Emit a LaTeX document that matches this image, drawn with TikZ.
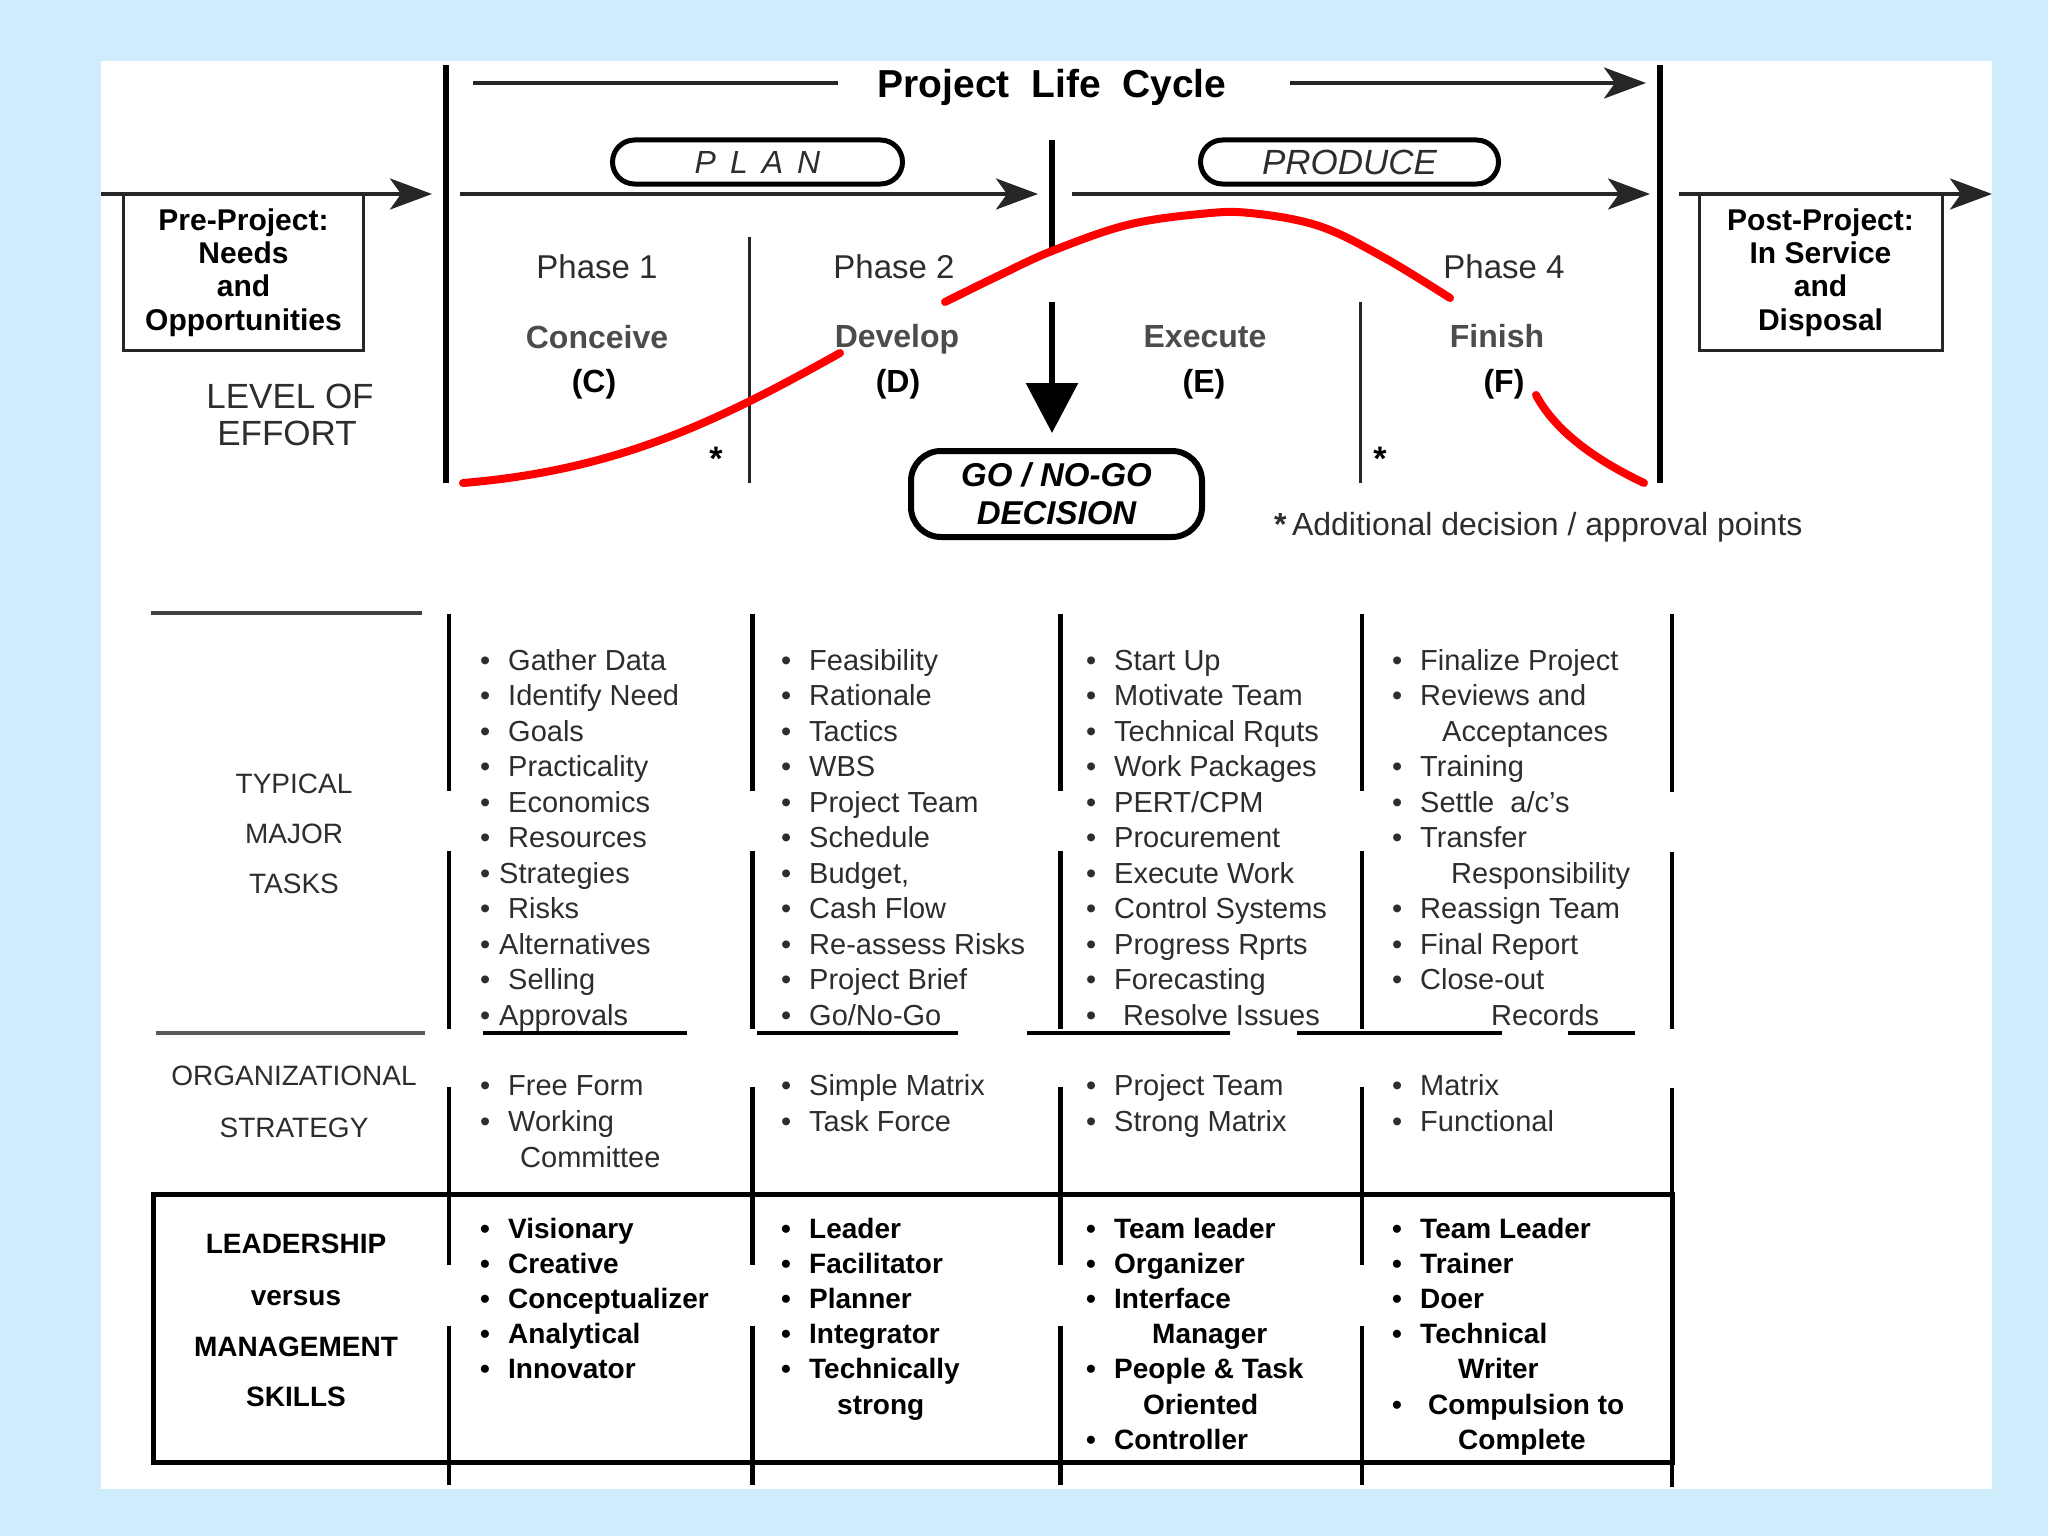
\documentclass[tikz,border=0pt]{standalone}
\usepackage{fontspec}
\setmainfont{Liberation Sans}
\usetikzlibrary{arrows.meta}
\definecolor{bgblue}{RGB}{206,236,252}
\definecolor{ink}{RGB}{45,45,45}
\newcommand\fsz[1]{\fontsize{#1pt}{#1pt}\selectfont}
\newcommand\fszl[2]{\fontsize{#1pt}{#2pt}\selectfont}
\newcommand\bu{\makebox[28pt][l]{\textbullet}}
\newcommand\bn{\makebox[19pt][l]{\textbullet}}
\newcommand\bw[1]{\makebox[#1][l]{\textbullet}}
\begin{document}
\begin{tikzpicture}[x=1pt,y=-1pt,
  txt/.style={inner sep=0pt, anchor=base west, text=ink, font=\fsz{29}},
  btxt/.style={inner sep=0pt, anchor=base west, text=black, font=\fsz{28}\bfseries},
  lab/.style={inner sep=0pt, anchor=base, text=ink},
  blab/.style={inner sep=0pt, anchor=base, text=black},
  harrow/.style={line width=4pt, black!85, -{Stealth[length=42pt,width=31pt,inset=11pt]}},
  hline/.style={line width=4pt, black!85},
  pill/.style={draw=black, line width=5pt, rounded corners=22pt, inner sep=0pt},
  infobox/.style={draw=black!85, line width=3pt, inner sep=0pt, align=center, font=\fszl{30}{33.3}\bfseries, text=black},
  effort/.style={draw=red, line width=8pt, line cap=round},
  colline/.style={line width=4.5pt, black},
  rowline/.style={line width=4pt, black}]
% background and panel
\fill[bgblue] (0,0) rectangle (2048,1536);
\fill[white] (101,61) rectangle (1992,1489);
\useasboundingbox (0,0) rectangle (2048,1536);

% ---------------- top part ----------------
\draw[line width=6pt] (446,65) -- (446,483);
\draw[line width=6pt] (1660,65) -- (1660,483);

\node[blab, font=\fsz{39}\bfseries] (plc) at (1052,98) {Project\ \ Life\ \ Cycle};
\coordinate (plcL) at (473,83); \coordinate (plcLe) at (838,83);
\draw[hline] (plcL) -- (plcLe);
\coordinate (plcR) at (1290,83); \coordinate (plcRe) at (1646,83);
\draw[harrow] (plcR) -- (plcRe);

\node[infobox, minimum width=240pt, minimum height=156pt] (pre) at (243.5,272.5) {Pre-Project:\\Needs\\and\\Opportunities};
\node[infobox, minimum width=243pt, minimum height=156pt] (post) at (1820.5,272.5) {Post-Project:\\In Service\\and\\Disposal};
\coordinate (preS) at (101,194); \coordinate (preE) at (432,194);
\draw[harrow] (preS) -- (preE);
\coordinate (postS) at (1679,194); \coordinate (postE) at (1992,194);
\draw[harrow] (postS) -- (postE);

\node[pill, minimum width=290pt, minimum height=44pt, font=\fsz{32}\itshape, text=ink] (plan) at (757.5,162) {P\hspace{14pt}L\hspace{14pt}A\hspace{14pt}N};
\node[pill, minimum width=298pt, minimum height=44pt, font=\fsz{35}\itshape, text=ink] (produce) at (1349.5,162) {PRODUCE};
\coordinate (planS) at (460,194); \coordinate (planE) at (1038,194);
\draw[harrow] (planS) -- (planE);
\coordinate (prodS) at (1072,194); \coordinate (prodE) at (1650,194);
\draw[harrow] (prodS) -- (prodE);

% decision line and arrow
\coordinate (decT) at (1052,140); \coordinate (decM) at (1052,252);
\draw[line width=6pt] (decT) -- (decM);
\node[draw, line width=6pt, rounded corners=30pt, minimum width=291pt, minimum height=86pt, inner sep=0pt, align=center, font=\fszl{33}{38}\bfseries\itshape] (go) at (1056.5,494) {GO / NO-GO\\DECISION};
\coordinate (goS) at (1052,302);
\draw[line width=6pt, -{Triangle[length=50pt,width=51pt]}, shorten >=15pt] (goS) -- (go.north -| goS);

% phase dividers
\draw[line width=3pt, black!85] (749,237) -- (749,483);
\draw[line width=3pt, black!85] (1360,302) -- (1360,483);

% phase labels
\node[lab, font=\fsz{33}] (ph1) at (597,278) {Phase 1};
\node[lab, font=\fsz{33}] (ph2) at (894,278) {Phase 2};
\node[lab, font=\fsz{33}] (ph4) at (1504,278) {Phase 4};
\node[lab, font=\fsz{32}\bfseries, text=black!70] (cC) at (597,348) {Conceive};
\node[lab, font=\fsz{32}\bfseries, text=black!70] (cD) at (897,347) {Develop};
\node[lab, font=\fsz{32}\bfseries, text=black!70] (cE) at (1205,347) {Execute};
\node[lab, font=\fsz{32}\bfseries, text=black!70] (cF) at (1497,347) {Finish};
\node[blab, font=\fsz{32}\bfseries] (lC) at (594,392) {(C)};
\node[blab, font=\fsz{32}\bfseries] (lD) at (898,392) {(D)};
\node[blab, font=\fsz{32}\bfseries] (lE) at (1204,392) {(E)};
\node[blab, font=\fsz{32}\bfseries] (lF) at (1504,392) {(F)};
\node[lab, font=\fsz{35}] (lev1) at (290,408) {LEVEL OF};
\node[lab, font=\fsz{35}] (lev2) at (287,445) {EFFORT};
\node[blab, font=\fsz{34}\bfseries] (ast1) at (716,470) {*};
\node[blab, font=\fsz{34}\bfseries] (ast2) at (1380,470) {*};
\node[lab, anchor=base west, font=\fsz{32}] (note) at (1274,535) {{\bfseries *}\,Additional decision / approval points};

% level of effort curve
\draw[effort] (463,483) .. controls (620,470) and (720,420) .. (840,353);
\draw[effort] plot[smooth, tension=0.6] coordinates {(945,302) (1000,275) (1052,251) (1127,225) (1200,214) (1250,213) (1319,226) (1383,257) (1450,298)};
\draw[effort] (1536,395) .. controls (1552,425) and (1585,455) .. (1644,483);

% ---------------- lower table ----------------
\draw[line width=4pt, black!75] (151,613) -- (422,613);
\draw[line width=4pt, black!65] (156,1033) -- (425,1033);
\foreach \x/\w in {449/3.5pt, 752/5pt, 1060/5pt, 1362/4pt} {
  \draw[line width=\w] (\x,614) -- (\x,791);
  \draw[line width=\w] (\x,851) -- (\x,1029);
  \draw[line width=\w] (\x,1087) -- (\x,1265);
  \draw[line width=\w] (\x,1326) -- (\x,1485);
}
\draw[colline] (1672,614) -- (1672,792);
\draw[colline] (1672,852) -- (1672,1029);
\draw[colline] (1672,1088) -- (1672,1487);
\foreach \a/\b in {483/687, 757/958, 1027/1230, 1297/1502, 1568/1635}
  \draw[rowline] (\a,1033) -- (\b,1033);
\draw[line width=5pt] (153,1194) rectangle (1672,1462);

% row labels
\node[lab, font=\fsz{28}] (typ) at (294,793) {TYPICAL};
\node[lab, font=\fsz{28}] (maj) at (294,843) {MAJOR};
\node[lab, font=\fsz{28}] (tsk) at (294,893) {TASKS};
\node[lab, font=\fsz{28}] (org) at (294,1085) {ORGANIZATIONAL};
\node[lab, font=\fsz{28}] (str) at (294,1137) {STRATEGY};
\node[blab, font=\fsz{28}\bfseries] (lea) at (296,1253) {LEADERSHIP};
\node[blab, font=\fsz{28}\bfseries] (ver) at (296,1305) {versus};
\node[blab, font=\fsz{28}\bfseries] (man) at (296,1356) {MANAGEMENT};
\node[blab, font=\fsz{28}\bfseries] (ski) at (296,1406) {SKILLS};

% typical major tasks
\foreach \t [count=\i] in {{\bu Gather Data},{\bu Identify Need},{\bu Goals},{\bu Practicality},{\bu Economics},{\bu Resources},{\bn Strategies},{\bu Risks},{\bn Alternatives},{\bu Selling},{\bn Approvals}}
  \node[txt] (ta\i) at (480,{670+35.5*(\i-1)}) {\t};
\foreach \t [count=\i] in {{\bu Feasibility},{\bu Rationale},{\bu Tactics},{\bu WBS},{\bu Project Team},{\bu Schedule},{\bu Budget,},{\bu Cash Flow},{\bu Re-assess Risks},{\bu Project Brief},{\bu Go/No-Go}}
  \node[txt] (tb\i) at (781,{670+35.5*(\i-1)}) {\t};
\foreach \t [count=\i] in {{\bu Start Up},{\bu Motivate Team},{\bu Technical Rquts},{\bu Work Packages},{\bu PERT/CPM},{\bu Procurement},{\bu Execute Work},{\bu Control Systems},{\bu Progress Rprts},{\bu Forecasting},{\bw{37pt}Resolve Issues}}
  \node[txt] (tc\i) at (1086,{670+35.5*(\i-1)}) {\t};
\foreach \t [count=\i] in {{\bu Finalize Project},{\bu Reviews and},{\hspace*{50pt}Acceptances},{\bu Training},{\bu Settle\ \ a/c's},{\bu Transfer},{\hspace*{59pt}Responsibility},{\bu Reassign Team},{\bu Final Report},{\bu Close-out},{\hspace*{99pt}Records}}
  \node[txt] (td\i) at (1392,{670+35.5*(\i-1)}) {\t};

% organizational strategy
\foreach \t [count=\i] in {{\bu Free Form},{\bu Working},{\hspace*{40pt}Committee}}
  \node[txt] (oa\i) at (480,{1095+36*(\i-1)}) {\t};
\foreach \t [count=\i] in {{\bu Simple Matrix},{\bu Task Force}}
  \node[txt] (ob\i) at (781,{1095+36*(\i-1)}) {\t};
\foreach \t [count=\i] in {{\bu Project Team},{\bu Strong Matrix}}
  \node[txt] (oc\i) at (1086,{1095+36*(\i-1)}) {\t};
\foreach \t [count=\i] in {{\bu Matrix},{\bu Functional}}
  \node[txt] (od\i) at (1392,{1095+36*(\i-1)}) {\t};

% leadership versus management skills
\foreach \t [count=\i] in {{\bu Visionary},{\bu Creative},{\bu Conceptualizer},{\bu Analytical},{\bu Innovator}}
  \node[btxt] (la\i) at (480,{1238+35.2*(\i-1)}) {\t};
\foreach \t [count=\i] in {{\bu Leader},{\bu Facilitator},{\bu Planner},{\bu Integrator},{\bu Technically},{\hspace*{56pt}strong}}
  \node[btxt] (lb\i) at (781,{1238+35.2*(\i-1)}) {\t};
\foreach \t [count=\i] in {{\bu Team leader},{\bu Organizer},{\bu Interface},{\hspace*{66pt}Manager},{\bu People \& Task},{\hspace*{57pt}Oriented},{\bu Controller}}
  \node[btxt] (lc\i) at (1086,{1238+35.2*(\i-1)}) {\t};
\foreach \t [count=\i] in {{\bu Team Leader},{\bu Trainer},{\bu Doer},{\bu Technical},{\hspace*{66pt}Writer},{\bw{36pt}Compulsion to},{\hspace*{66pt}Complete}}
  \node[btxt] (ld\i) at (1392,{1238+35.2*(\i-1)}) {\t};
\end{tikzpicture}
\end{document}
